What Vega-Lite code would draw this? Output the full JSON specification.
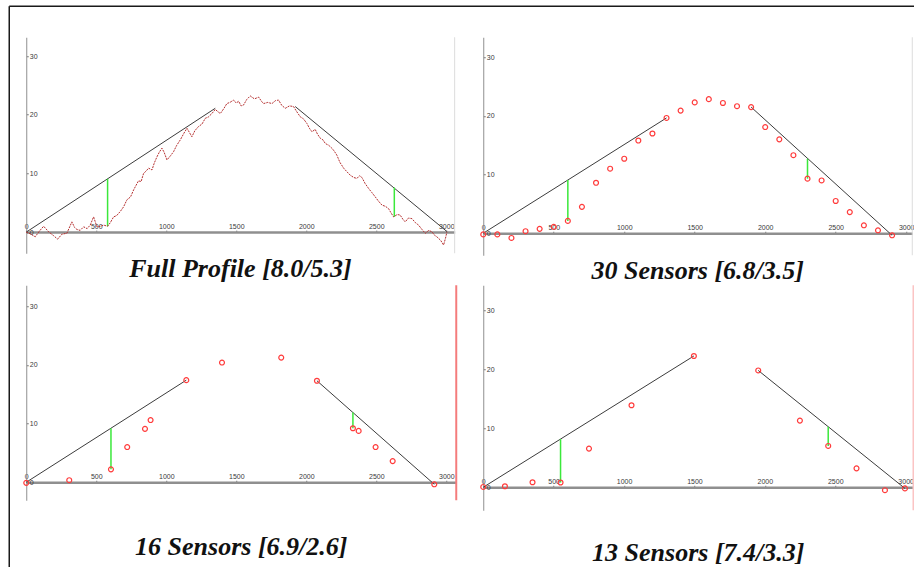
{
  "$schema": "https://vega.github.io/schema/vega-lite/v6.json",
  "background": "white",
  "padding": {"left": 8.25, "top": 5.25, "right": 0, "bottom": 0},
  "bounds": "flush",
  "columns": 2,
  "spacing": {"row": 30, "column": 27},
  "datasets": {
    "p1prof": [
      {"x":0,"y":0.0},{"x":30,"y":-0.3},{"x":64,"y":-0.8},{"x":95,"y":0.2},{"x":124,"y":1.0},{"x":160,"y":0.05},{"x":195,"y":-0.6},{"x":224,"y":-1.2},{"x":255,"y":-0.35},{"x":290,"y":-0.2},{"x":326,"y":1.75},{"x":345,"y":0.8},{"x":362,"y":0.45},{"x":385,"y":0.3},{"x":410,"y":0.9},{"x":435,"y":0.6},{"x":457,"y":1.2},{"x":481,"y":2.6},{"x":505,"y":0.9},{"x":530,"y":1.0},{"x":552,"y":1.2},{"x":581,"y":1.0},{"x":600,"y":1.6},{"x":624,"y":2.6},{"x":645,"y":2.8},{"x":671,"y":3.5},{"x":695,"y":4.3},{"x":719,"y":5.5},{"x":745,"y":6.0},{"x":767,"y":7.2},{"x":785,"y":8.0},{"x":802,"y":8.75},{"x":820,"y":8.6},{"x":838,"y":10.0},{"x":856,"y":10.4},{"x":874,"y":10.9},{"x":898,"y":10.6},{"x":915,"y":11.8},{"x":933,"y":12.8},{"x":950,"y":13.6},{"x":969,"y":14.3},{"x":985,"y":13.6},{"x":1005,"y":12.3},{"x":1030,"y":13.0},{"x":1052,"y":13.7},{"x":1075,"y":14.8},{"x":1100,"y":15.7},{"x":1125,"y":16.8},{"x":1148,"y":17.7},{"x":1165,"y":17.0},{"x":1183,"y":16.25},{"x":1205,"y":17.3},{"x":1231,"y":18.0},{"x":1255,"y":18.4},{"x":1279,"y":19.4},{"x":1300,"y":19.6},{"x":1326,"y":20.2},{"x":1350,"y":20.9},{"x":1370,"y":20.5},{"x":1386,"y":20.2},{"x":1410,"y":21.0},{"x":1433,"y":21.9},{"x":1455,"y":22.1},{"x":1481,"y":22.5},{"x":1500,"y":22.0},{"x":1517,"y":22.3},{"x":1535,"y":21.5},{"x":1552,"y":21.65},{"x":1575,"y":22.6},{"x":1600,"y":23.2},{"x":1630,"y":22.7},{"x":1660,"y":23.0},{"x":1680,"y":22.3},{"x":1695,"y":21.9},{"x":1725,"y":22.1},{"x":1755,"y":21.9},{"x":1780,"y":22.4},{"x":1802,"y":22.5},{"x":1825,"y":21.6},{"x":1850,"y":21.1},{"x":1880,"y":21.5},{"x":1909,"y":21.4},{"x":1930,"y":20.6},{"x":1957,"y":19.65},{"x":1980,"y":19.3},{"x":2005,"y":18.5},{"x":2025,"y":17.6},{"x":2041,"y":17.1},{"x":2064,"y":17.5},{"x":2080,"y":16.7},{"x":2100,"y":16.0},{"x":2120,"y":15.7},{"x":2136,"y":15.1},{"x":2160,"y":14.8},{"x":2183,"y":14.3},{"x":2200,"y":13.8},{"x":2219,"y":13.1},{"x":2240,"y":11.9},{"x":2267,"y":10.9},{"x":2290,"y":10.3},{"x":2314,"y":9.7},{"x":2340,"y":9.3},{"x":2362,"y":9.15},{"x":2380,"y":9.6},{"x":2398,"y":9.3},{"x":2420,"y":8.3},{"x":2445,"y":7.45},{"x":2470,"y":6.7},{"x":2493,"y":6.0},{"x":2515,"y":5.3},{"x":2541,"y":4.6},{"x":2565,"y":4.4},{"x":2588,"y":4.0},{"x":2605,"y":3.3},{"x":2624,"y":2.6},{"x":2650,"y":3.0},{"x":2671,"y":2.9},{"x":2690,"y":2.2},{"x":2707,"y":1.75},{"x":2730,"y":2.4},{"x":2755,"y":2.3},{"x":2780,"y":1.6},{"x":2802,"y":1.2},{"x":2825,"y":0.5},{"x":2850,"y":-0.2},{"x":2875,"y":0.3},{"x":2898,"y":0.05},{"x":2915,"y":-0.5},{"x":2933,"y":-0.8},{"x":2960,"y":-1.4},{"x":2981,"y":-2.2},{"x":2995,"y":-1.0},{"x":3005,"y":0.05}
    ],
    "p1fit": [
      {"seg":"A","x":0,"y":0},{"seg":"A","x":1350,"y":21.1},
      {"seg":"B","x":1921,"y":21.4},{"seg":"B","x":3005,"y":0.1}
    ],
    "p1err": [
      {"x":581,"y":1.0,"y2":9.08},{"x":2629,"y":2.6,"y2":7.6}
    ],
    "p2pts": [
      {"x":0,"y":-0.2},{"x":100,"y":-0.2},{"x":200,"y":-0.8},{"x":300,"y":0.35},{"x":400,"y":0.75},{"x":500,"y":1.1},{"x":600,"y":2.1},{"x":700,"y":4.5},{"x":800,"y":8.6},{"x":900,"y":11.0},{"x":1000,"y":12.7},{"x":1100,"y":15.8},{"x":1200,"y":17.0},{"x":1300,"y":19.65},{"x":1400,"y":20.9},{"x":1500,"y":22.3},{"x":1600,"y":22.85},{"x":1700,"y":22.2},{"x":1800,"y":21.65},{"x":1900,"y":21.5},{"x":2000,"y":18.1},{"x":2100,"y":16.0},{"x":2200,"y":13.3},{"x":2300,"y":9.3},{"x":2400,"y":9.0},{"x":2500,"y":5.5},{"x":2600,"y":3.6},{"x":2700,"y":1.35},{"x":2800,"y":0.5},{"x":2900,"y":-0.35}
    ],
    "p2fit": [
      {"seg":"A","x":0,"y":0},{"seg":"A","x":1300,"y":19.65},
      {"seg":"B","x":1900,"y":21.5},{"seg":"B","x":2900,"y":-0.35}
    ],
    "p2err": [
      {"x":600,"y":2.1,"y2":9.07},{"x":2300,"y":9.3,"y2":12.7}
    ],
    "p3pts": [
      {"x":0,"y":-0.1},{"x":307,"y":0.35},{"x":605,"y":2.2},{"x":721,"y":6.0},{"x":848,"y":9.1},{"x":888,"y":10.6},{"x":1143,"y":17.4},{"x":1398,"y":20.4},{"x":1821,"y":21.25},{"x":2076,"y":17.3},{"x":2333,"y":9.2},{"x":2374,"y":8.75},{"x":2495,"y":6.0},{"x":2617,"y":3.6},{"x":2914,"y":-0.35}
    ],
    "p3fit": [
      {"seg":"A","x":0,"y":0},{"seg":"A","x":1143,"y":17.4},
      {"seg":"B","x":2076,"y":17.3},{"seg":"B","x":2914,"y":-0.35}
    ],
    "p3err": [
      {"x":605,"y":2.2,"y2":9.2},{"x":2333,"y":9.2,"y2":11.9}
    ],
    "p4pts": [
      {"x":0,"y":0.05},{"x":154,"y":0.17},{"x":350,"y":0.85},{"x":549,"y":0.8},{"x":751,"y":6.55},{"x":1053,"y":13.9},{"x":1496,"y":22.25},{"x":1953,"y":19.8},{"x":2249,"y":11.3},{"x":2450,"y":7.0},{"x":2651,"y":3.2},{"x":2853,"y":-0.5},{"x":2995,"y":-0.2}
    ],
    "p4fit": [
      {"seg":"A","x":0,"y":0},{"seg":"A","x":1496,"y":22.25},
      {"seg":"B","x":1953,"y":19.8},{"seg":"B","x":2995,"y":-0.2}
    ],
    "p4err": [
      {"x":549,"y":0.8,"y2":8.17},{"x":2450,"y":7.0,"y2":10.26}
    ]
  },
  "concat": [
    {
      "width": 428.4,
      "height": 216,
      "title": {"text": "Full Profile [8.0/5.3]", "offset": 2.5},
      "layer": [
        {"data": {"name": "p1fit"}, "mark": {"type": "line", "color": "#3c3c3c", "strokeWidth": 1},
         "encoding": {
           "x": {"field": "x", "type": "quantitative", "title": null,
                 "scale": {"domain": [0, 3060], "nice": false, "zero": false},
                 "axis": {"orient": "top", "offset": -194.87, "values": [0,500,1000,1500,2000,2500,3000], "format": "d"}},
           "y": {"field": "y", "type": "quantitative", "title": null,
                 "scale": {"domain": [-3.6, 33.2], "nice": false, "zero": false},
                 "axis": {"orient": "right", "offset": -428.4, "values": [0,10,20,30], "format": "d"}},
           "detail": {"field": "seg"}}},
        {"data": {"values": [{}]}, "mark": {"type": "rule", "color": "#dcdcdc", "strokeWidth": 1},
         "encoding": {"x": {"datum": 3060}, "y": {"datum": -3.6}, "y2": {"datum": 33.2}}},
        {"data": {"values": [{}]}, "mark": {"type": "rule", "color": "#1a1a1a", "strokeWidth": 1.5},
         "encoding": {"x": {"datum": -121.4}, "x2": {"datum": 6343}, "y": {"datum": 38.48}}},
        {"data": {"name": "p1err"}, "mark": {"type": "rule", "color": "#3be83b", "strokeWidth": 1.5},
         "encoding": {"x": {"field": "x", "type": "quantitative"}, "y": {"field": "y", "type": "quantitative"}, "y2": {"field": "y2"}}},
        {"data": {"name": "p1prof"}, "mark": {"type": "line", "color": "#b52f2f", "strokeWidth": 1, "strokeDash": [2, 1]},
         "encoding": {"x": {"field": "x", "type": "quantitative"}, "y": {"field": "y", "type": "quantitative"}}}
      ]
    },
    {
      "width": 429,
      "height": 218,
      "title": {"text": "30 Sensors [6.8/3.5]", "offset": 2.5},
      "layer": [
        {"data": {"name": "p2fit"}, "mark": {"type": "line", "color": "#3c3c3c", "strokeWidth": 1},
         "encoding": {
           "x": {"field": "x", "type": "quantitative", "title": null,
                 "scale": {"domain": [0, 3043], "nice": false, "zero": false},
                 "axis": {"orient": "top", "offset": -196, "values": [0,500,1000,1500,2000,2500,3000], "format": "d"}},
           "y": {"field": "y", "type": "quantitative", "title": null,
                 "scale": {"domain": [-3.75, 33.4], "nice": false, "zero": false},
                 "axis": {"orient": "right", "offset": -429, "values": [0,10,20,30], "format": "d"}},
           "detail": {"field": "seg"}}},
        {"data": {"values": [{}]}, "mark": {"type": "rule", "color": "#dcdcdc", "strokeWidth": 1},
         "encoding": {"x": {"datum": 3043}, "y": {"datum": -3.75}, "y2": {"datum": 33.4}}},
        {"data": {"name": "p2err"}, "mark": {"type": "rule", "color": "#3be83b", "strokeWidth": 1.5},
         "encoding": {"x": {"field": "x", "type": "quantitative"}, "y": {"field": "y", "type": "quantitative"}, "y2": {"field": "y2"}}},
        {"data": {"name": "p2pts"}, "mark": {"type": "point", "shape": "circle", "filled": false, "color": "#ff3b3b", "size": 24, "strokeWidth": 1.2, "opacity": 1},
         "encoding": {"x": {"field": "x", "type": "quantitative"}, "y": {"field": "y", "type": "quantitative"}}}
      ]
    },
    {
      "width": 430,
      "height": 215,
      "title": {"text": "16 Sensors [6.9/2.6]", "offset": -33.75},
      "layer": [
        {"data": {"name": "p3fit"}, "mark": {"type": "line", "color": "#3c3c3c", "strokeWidth": 1},
         "encoding": {
           "x": {"field": "x", "type": "quantitative", "title": null,
                 "scale": {"domain": [0, 3071], "nice": false, "zero": false},
                 "axis": {"orient": "top", "offset": -196.99, "values": [0,500,1000,1500,2000,2500,3000], "format": "d"}},
           "y": {"field": "y", "type": "quantitative", "title": null,
                 "scale": {"domain": [-3.07, 33.58], "nice": false, "zero": false},
                 "axis": {"orient": "right", "offset": -430, "values": [0,10,20,30], "format": "d"}},
           "detail": {"field": "seg"}}},
        {"data": {"values": [{}]}, "mark": {"type": "rule", "color": "#f47c7c", "strokeWidth": 2},
         "encoding": {"x": {"datum": 3071}, "y": {"datum": -3.07}, "y2": {"datum": 33.58}}},
        {"data": {"values": [{}]}, "mark": {"type": "rule", "color": "#1a1a1a", "strokeWidth": 1.5},
         "encoding": {"x": {"datum": -121.4}, "y": {"datum": 81.14}, "y2": {"datum": -14.49}}},
        {"data": {"name": "p3err"}, "mark": {"type": "rule", "color": "#3be83b", "strokeWidth": 1.5},
         "encoding": {"x": {"field": "x", "type": "quantitative"}, "y": {"field": "y", "type": "quantitative"}, "y2": {"field": "y2"}}},
        {"data": {"name": "p3pts"}, "mark": {"type": "point", "shape": "circle", "filled": false, "color": "#ff3b3b", "size": 24, "strokeWidth": 1.2, "opacity": 1},
         "encoding": {"x": {"field": "x", "type": "quantitative"}, "y": {"field": "y", "type": "quantitative"}}}
      ]
    },
    {
      "width": 430,
      "height": 225,
      "title": {"text": "13 Sensors [7.4/3.3]", "offset": 29},
      "layer": [
        {"data": {"name": "p4fit"}, "mark": {"type": "line", "color": "#3c3c3c", "strokeWidth": 1},
         "encoding": {
           "x": {"field": "x", "type": "quantitative", "title": null,
                 "scale": {"domain": [0, 3054], "nice": false, "zero": false},
                 "axis": {"orient": "top", "offset": -202, "values": [0,500,1000,1500,2000,2500,3000], "format": "d"}},
           "y": {"field": "y", "type": "quantitative", "title": null,
                 "scale": {"domain": [-3.9, 34.24], "nice": false, "zero": false},
                 "axis": {"orient": "right", "offset": -430, "values": [0,10,20,30], "format": "d"}},
           "detail": {"field": "seg"}}},
        {"data": {"values": [{}]}, "mark": {"type": "rule", "color": "#fbc4c4", "strokeWidth": 1.5},
         "encoding": {"x": {"datum": 3054}, "y": {"datum": -3.9}, "y2": {"datum": 34.24}}},
        {"data": {"name": "p4err"}, "mark": {"type": "rule", "color": "#3be83b", "strokeWidth": 1.5},
         "encoding": {"x": {"field": "x", "type": "quantitative"}, "y": {"field": "y", "type": "quantitative"}, "y2": {"field": "y2"}}},
        {"data": {"name": "p4pts"}, "mark": {"type": "point", "shape": "circle", "filled": false, "color": "#ff3b3b", "size": 24, "strokeWidth": 1.2, "opacity": 1},
         "encoding": {"x": {"field": "x", "type": "quantitative"}, "y": {"field": "y", "type": "quantitative"}}}
      ]
    }
  ],
  "config": {
    "view": {"stroke": null},
    "axis": {"grid": false, "labelFont": "Liberation Sans", "labelFontSize": 7, "labelColor": "#3a3a3a",
             "domainColor": "#8f8f8f", "tickColor": "#777777", "tickSize": 2, "labelFlush": false,
             "labelOverlap": false, "labelPadding": 1},
    "axisX": {"domainWidth": 2.5},
    "axisY": {"domainWidth": 1},
    "title": {"font": "Liberation Serif", "fontSize": 26, "fontStyle": "italic", "fontWeight": "bold",
              "color": "#111111", "orient": "bottom", "anchor": "middle", "frame": "group"}
  }
}
